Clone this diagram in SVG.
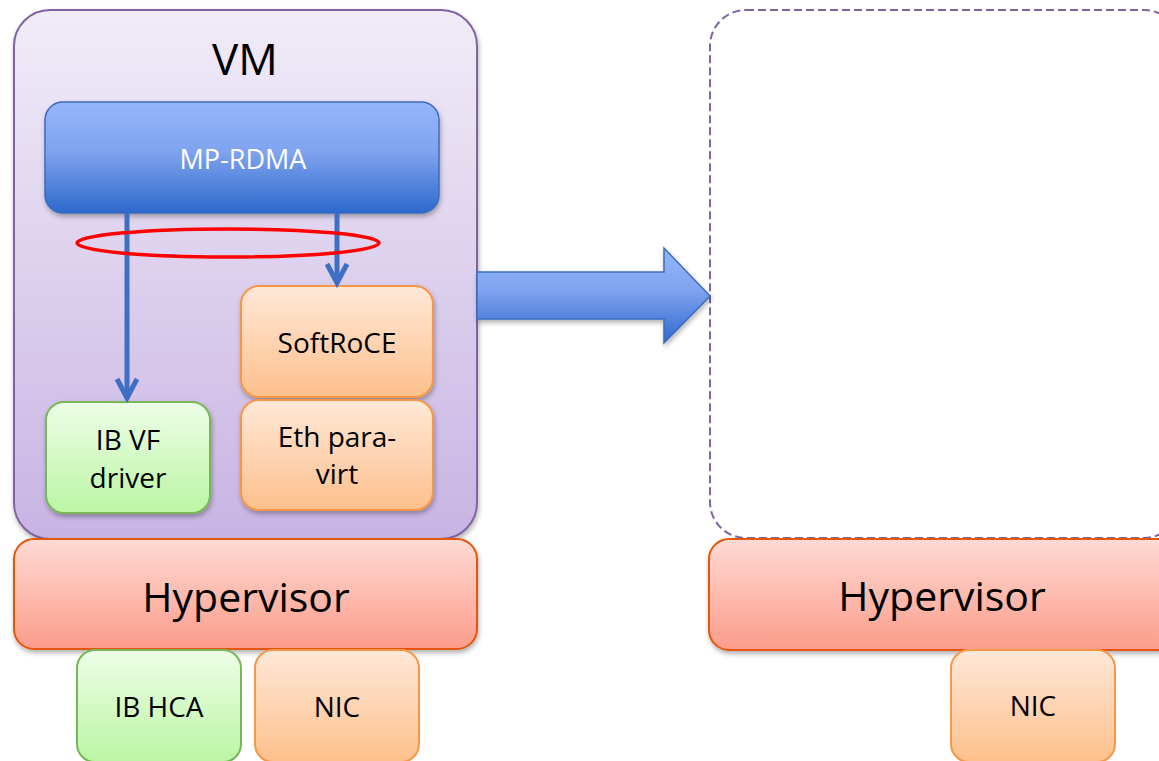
<svg xmlns="http://www.w3.org/2000/svg" width="1159" height="761" viewBox="0 0 1159 761">
<defs>
<linearGradient id="gVM" x1="0" y1="0" x2="0" y2="1"><stop offset="0" stop-color="#f1ecf8"/><stop offset="1" stop-color="#c8b4e3"/></linearGradient>
<linearGradient id="gBlue" x1="0" y1="0" x2="0" y2="1"><stop offset="0" stop-color="#94b6fd"/><stop offset="0.45" stop-color="#7fa3ee"/><stop offset="1" stop-color="#2d69cd"/></linearGradient>
<linearGradient id="gOr" x1="0" y1="0" x2="0" y2="1"><stop offset="0" stop-color="#ffe8d8"/><stop offset="1" stop-color="#fdc08c"/></linearGradient>
<linearGradient id="gGr" x1="0" y1="0" x2="0" y2="1"><stop offset="0" stop-color="#edfee7"/><stop offset="1" stop-color="#bcf5a4"/></linearGradient>
<linearGradient id="gHy" x1="0" y1="0" x2="0" y2="1"><stop offset="0" stop-color="#fedad4"/><stop offset="1" stop-color="#fc9c8a"/></linearGradient>
<filter id="sh" x="-10%" y="-10%" width="120%" height="130%"><feDropShadow dx="1" dy="3" stdDeviation="2.5" flood-color="#000" flood-opacity="0.3"/></filter>
<style>
text{font-family:"Open Sans","Liberation Sans",sans-serif;text-anchor:middle;fill:#000}
.vm{fill:url(#gVM);stroke:#8064a2;stroke-width:2}
.blue{fill:url(#gBlue);stroke:#3a6cc0;stroke-width:1.5}
.or{fill:url(#gOr);stroke:#f79646;stroke-width:2}
.gr{fill:url(#gGr);stroke:#78b757;stroke-width:2}
.hy{fill:url(#gHy);stroke:#e5560f;stroke-width:2}
.s27{font-size:28px}
.conn{stroke:#3f6fc4;stroke-width:5;fill:none}
</style>
</defs>

<g id="vm1">
<rect class="vm" x="14" y="10" width="463" height="529" rx="36" filter="url(#sh)"/>
<text x="245" y="75" font-size="44">VM</text>
</g>

<g id="vm2">
<rect x="710" y="10" width="470" height="528" rx="36" fill="#fff" stroke="#8064a2" stroke-width="2" stroke-dasharray="8,4"/>
</g>

<g id="mprdma">
<rect class="blue" x="45" y="102" width="394" height="111" rx="18" filter="url(#sh)"/>
<text x="243" y="169" font-size="27" style="fill:#fff">MP-RDMA</text>
</g>

<g id="softroce">
<rect class="or" x="241" y="286" width="192" height="111" rx="18" filter="url(#sh)"/>
<text class="s27" x="337" y="353">SoftRoCE</text>
</g>

<g id="ethpara">
<rect class="or" x="241" y="400" width="192" height="110" rx="18" filter="url(#sh)"/>
<text class="s27" x="337" y="447">Eth para-</text>
<text class="s27" x="337" y="484">virt</text>
</g>

<g id="ibvf">
<rect class="gr" x="46" y="402" width="164" height="111" rx="18" filter="url(#sh)"/>
<text class="s27" x="128" y="450">IB VF</text>
<text class="s27" x="128" y="488">driver</text>
</g>

<g id="hyp1">
<rect class="hy" x="14" y="539" width="463" height="110" rx="20" filter="url(#sh)"/>
<text x="246" y="612" font-size="41">Hypervisor</text>
</g>

<g id="hyp2">
<rect class="hy" x="709" y="539" width="470" height="111" rx="20" filter="url(#sh)"/>
<text x="942" y="611" font-size="41">Hypervisor</text>
</g>

<g id="ibhca">
<rect class="gr" x="77" y="650" width="164" height="112" rx="18"/>
<text class="s27" x="159" y="717">IB HCA</text>
</g>

<g id="nic1">
<rect class="or" x="255" y="650" width="164" height="112" rx="18"/>
<text class="s27" x="337" y="717">NIC</text>
</g>

<g id="nic2">
<rect class="or" x="951" y="650" width="164" height="112" rx="18"/>
<text class="s27" x="1033" y="716">NIC</text>
</g>

<g id="connectors">
<line class="conn" x1="127" y1="213" x2="127" y2="399"/>
<path class="conn" d="M117 379 L127 398 L137 379"/>
<line class="conn" x1="337" y1="213" x2="337" y2="283"/>
<path class="conn" d="M327 264 L337 283 L347 264"/>
<ellipse cx="228" cy="243" rx="151" ry="14" fill="none" stroke="#f00" stroke-width="3.5"/>
<path d="M477 272 L664 272 L664 248 L710 296 L664 343 L664 319 L477 319 Z" fill="url(#gBlue)" stroke="#3a6cc0" stroke-width="1.5" filter="url(#sh)"/>
</g>
</svg>
